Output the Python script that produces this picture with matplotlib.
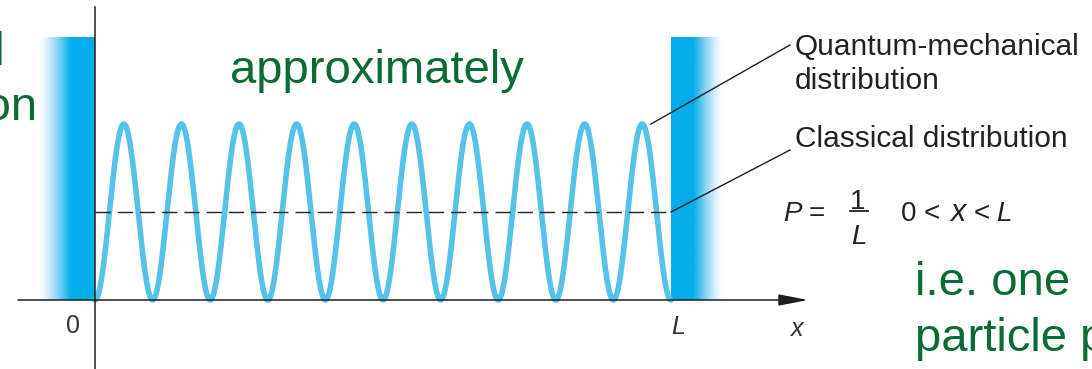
import numpy as np
import matplotlib
matplotlib.use("Agg")
import matplotlib.pyplot as plt
from matplotlib.colors import LinearSegmentedColormap

# ---------------- data ----------------
L = 1.0                 # box length
n_peaks = 10            # number of maxima of the quantum distribution
classical_P = 1.0       # classical probability density (units of 1/L)
quantum_peak = 2.0      # maximum of quantum density (units of 1/L)
tick_positions = [0.0, L]
tick_labels = ["0", "L"]
axis_label = "x"
quantum_label = ["Quantum-mechanical", "distribution"]
classical_label = "Classical distribution"
green_top = "approximately"
green_left = ["Classical", "distribution"]
green_right = ["i.e. one", "particle p"]

# ---------------- layout ----------------
plt.rcParams["font.family"] = ["Liberation Sans", "DejaVu Sans"]

W, H, DPI = 1092, 369, 100
fig = plt.figure(figsize=(W / DPI, H / DPI), dpi=DPI)
ax = fig.add_axes([0, 0, 1, 1])
X0, XL, Y0, Y1 = 95, 671, 300, 212     # pixel positions of x=0, x=L, P=0, P=1/L
sx, sy = (XL - X0) / L, (Y0 - Y1) / classical_P
ax.set_xlim(-X0 / sx, (W - X0) / sx)
ax.set_ylim((Y0 - H) / sy, Y0 / sy)
ax.axis("off")


def d(px, py):
    return (px - X0) / sx, (Y0 - py) / sy


def f(px, py):
    return px / W, 1 - py / H


black = "#1e1e1e"
txt = "#222222"
green = "#0b6b35"
wall_c = "#05aeea"
curve_c = "#55c2ea"

# ---------------- walls (gradient) ----------------
cmap = LinearSegmentedColormap.from_list("wall", ["#ffffff", "#8fd6f3", wall_c])
wall_top = d(0, 37)[1]
ramp = np.linspace(0, 1, 200)
left_prof = np.clip(ramp / 0.55, 0, 1) ** 1.2
right_prof = left_prof[::-1]
lx0 = d(40, 0)[0]
rx1 = d(722, 0)[0]
ax.imshow(left_prof[None, :], extent=(lx0, tick_positions[0], 0, wall_top),
          cmap=cmap, vmin=0, vmax=1, aspect="auto", interpolation="bilinear",
          zorder=1)
ax.imshow(right_prof[None, :], extent=(tick_positions[1], rx1, 0, wall_top),
          cmap=cmap, vmin=0, vmax=1, aspect="auto", interpolation="bilinear",
          zorder=1)

# ---------------- curves ----------------
x = np.linspace(0, L, 3000)
y = quantum_peak * np.sin(n_peaks * np.pi * x / L) ** 2
ax.plot(x, y, color=curve_c, lw=4.0, solid_capstyle="round", zorder=3)
ax.plot([0, L], [classical_P, classical_P], color=black, lw=1.0,
        ls=(0, (11, 5)), zorder=4)

# ---------------- axes ----------------
vb, vt = d(0, 369)[1], d(0, 7)[1]
ax.plot([0, 0], [vb, vt], color=black, lw=1.1, zorder=5)
ax.annotate("", xy=d(808, Y0), xytext=d(18, Y0),
            arrowprops=dict(arrowstyle="-|>,head_length=1.8,head_width=0.35",
                            lw=1.1, color=black, mutation_scale=10,
                            shrinkA=0, shrinkB=0), zorder=5)

# tick labels
fig.text(*f(73, 326), tick_labels[0], fontsize=18, color="#333333",
         ha="center", va="center")
fig.text(*f(678, 327), tick_labels[1], fontsize=18, color="#333333",
         style="italic", ha="center", va="center")
fig.text(*f(797, 329), axis_label, fontsize=18, color="#333333",
         style="italic", ha="center", va="center")

# leader lines
ax.plot(*zip(d(651, 124), d(790, 45)), color=black, lw=1.0, zorder=5)
ax.plot(*zip(d(671, 212), d(790, 150)), color=black, lw=1.0, zorder=5)

# annotation labels
fig.text(*f(795, 55), quantum_label[0], fontsize=21.5, color=txt,
         ha="left", va="baseline")
fig.text(*f(795, 89), quantum_label[1], fontsize=21.5, color=txt,
         ha="left", va="baseline")
fig.text(*f(795, 147), classical_label, fontsize=21.5, color=txt,
         ha="left", va="baseline")

# formula  P = 1/L   0 < x < L
fs = 20
base = 221
fig.text(*f(783, base), "P", fontsize=fs, style="italic", color=txt,
         ha="left", va="baseline")
fig.text(*f(809, base), "=", fontsize=fs, color=txt, ha="left",
         va="baseline")
fig.text(*f(858, 209), "1", fontsize=fs, color=txt, ha="center",
         va="baseline")
fig.add_artist(plt.Line2D([850 / W, 868 / W], [1 - 211.5 / H, 1 - 211.5 / H],
                          color=txt, lw=1.3))
fig.text(*f(859, 244), "L", fontsize=fs, style="italic", color=txt,
         ha="center", va="baseline")
fig.text(*f(901, base), "0", fontsize=fs, color=txt, ha="left",
         va="baseline")
fig.text(*f(924, base), "<", fontsize=fs, color=txt, ha="left",
         va="baseline")
fig.text(*f(950, base), "x", fontsize=fs + 2, style="italic", color=txt,
         ha="left", va="baseline")
fig.text(*f(974, base), "<", fontsize=fs, color=txt, ha="left",
         va="baseline")
fig.text(*f(996, base), "L", fontsize=fs, style="italic", color=txt,
         ha="left", va="baseline")

# green overlay texts
fig.text(*f(230, 83), green_top, fontsize=34, color=green, ha="left",
         va="baseline")
fig.text(*f(5, 65), green_left[0], fontsize=34, color=green, ha="right",
         va="baseline")
fig.text(*f(37, 120), green_left[1], fontsize=34, color=green, ha="right",
         va="baseline")
fig.text(*f(915, 295), green_right[0], fontsize=34, color=green, ha="left",
         va="baseline")
fig.text(*f(915, 351), green_right[1], fontsize=34, color=green, ha="left",
         va="baseline")

fig.savefig("out.png", dpi=DPI)
